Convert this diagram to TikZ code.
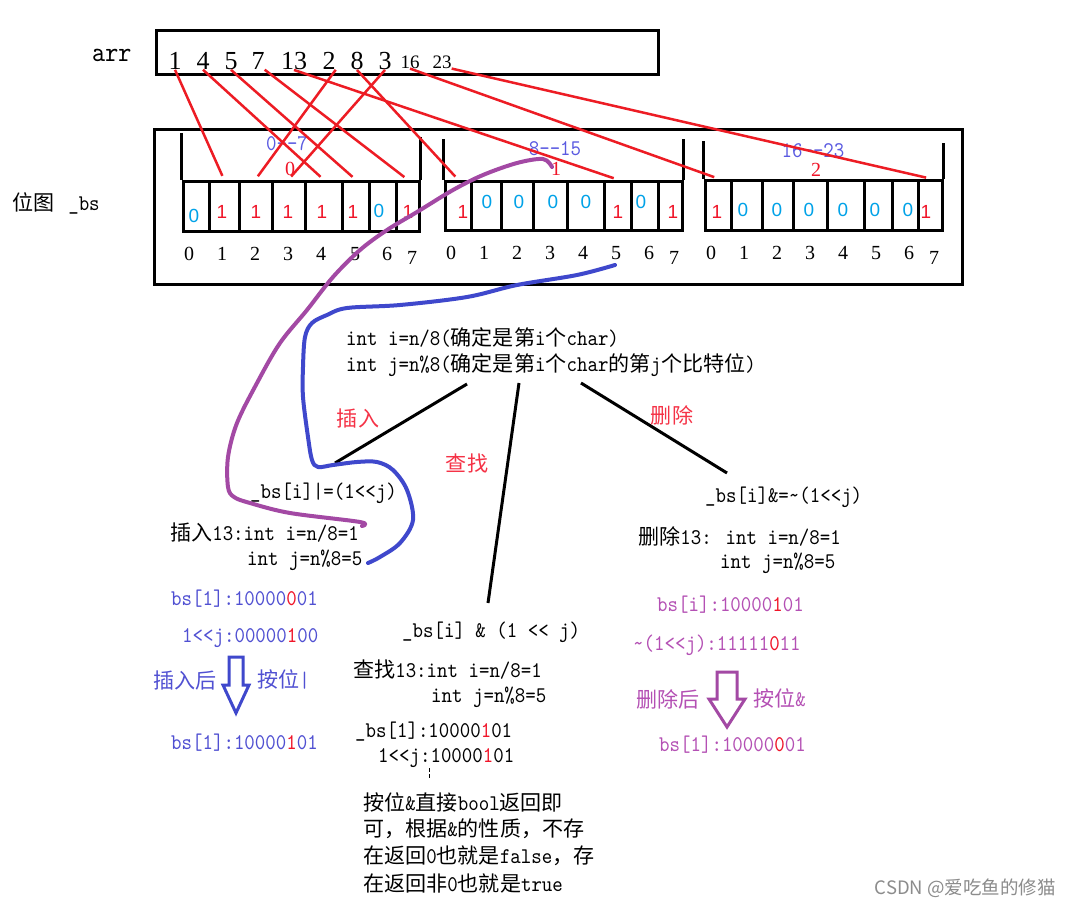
\documentclass[tikz,border=0pt]{standalone}
\usepackage{fontspec}
\setmainfont{Liberation Serif}
\newfontfamily\codefont{lmmono10-regular.otf}[FakeStretch=0.89]
\newfontfamily\cjkfont{Noto Sans CJK SC}[Scale=0.94]
\newfontfamily\wmfont{Noto Sans CJK SC}
\newfontfamily\sansf{Liberation Sans}
\newcommand\zh[1]{{\cjkfont #1}}
\definecolor{lred}{RGB}{237,28,36}
\definecolor{vred}{RGB}{240,20,40}
\definecolor{vblue}{RGB}{0,162,232}
\definecolor{lblue}{RGB}{90,90,225}
\definecolor{cblue}{RGB}{63,72,204}
\definecolor{cpurple}{RGB}{163,73,164}
\definecolor{btext}{RGB}{80,80,210}
\definecolor{ptext}{RGB}{180,80,180}
\definecolor{labred}{RGB}{245,50,70}
\newcommand\rd[1]{{\color{vred}#1}}
\begin{document}
\begin{tikzpicture}[x=1pt,y=-1pt,
  code/.style={font=\codefont\fontsize{22.4}{26}\selectfont, inner sep=0pt, anchor=west},
  cell/.style={draw, line width=3pt, minimum height=50pt, inner sep=0pt},
  idx/.style={font=\fontsize{20}{24}\selectfont, inner sep=0pt},
  val/.style={font=\sansf\fontsize{19}{22}\selectfont, inner sep=0pt},
  num/.style={font=\fontsize{26}{30}\selectfont, inner sep=0pt},
  smallnum/.style={font=\fontsize{19}{22}\selectfont, inner sep=0pt},
  rng/.style={font=\codefont\fontsize{22.4}{26}\selectfont, text=lblue, inner sep=0pt},
  grp/.style={font=\fontsize{20}{24}\selectfont, text=vred, inner sep=0pt},
  redline/.style={draw=lred, line width=2.5pt, shorten >=4pt},
  bline/.style={draw=black, line width=3pt},
  curve/.style={line width=4pt, line cap=round, line join=round},
  hollow/.style={line width=3pt, line join=miter}
]
\useasboundingbox (0,0) rectangle (1071,908);
\fill[white] (0,0) rectangle (1071,908);

% arr
\node[font=\codefont\fontsize{28}{32}\selectfont, inner sep=0pt, anchor=west] (arrlab) at (92,55) {arr};
\draw[line width=3pt] (156,30) rectangle (658,74);
\node[num] (n1) at (175,61) {1};
\node[num] (n4) at (203,61) {4};
\node[num] (n5) at (231,61) {5};
\node[num] (n7) at (258,61) {7};
\node[num] (n13) at (294,61) {13};
\node[num] (n2) at (329,61) {2};
\node[num] (n8) at (357,61) {8};
\node[num] (n3) at (385,61) {3};
\node[smallnum] (n16) at (410,62) {16};
\node[smallnum] (n23) at (442,62) {23};

% bitmap
\node[code] (bmlab) at (12,203) {\zh{位图}\hspace{14pt}\_bs};
\draw[line width=3pt] (154,129) rectangle (962,284);

\foreach \i/\c/\w in {0/196/26,1/224/30,2/255.5/33,3/288.5/33,4/323.5/37,5/355.5/27,6/382.5/27,7/407.5/23}
  \node[cell, minimum width=\w pt] (g1c\i) at (\c,206) {};
\foreach \i/\c/\w in {0/458/26,1/486/30,2/517/32,3/550/34,4/585.5/37,5/617.5/27,6/644.5/27,7/670/24}
  \node[cell, minimum width=\w pt, minimum height=49pt] (g2c\i) at (\c,205.5) {};
\foreach \i/\c/\w in {0/718/26,1/746.5/31,2/777.5/31,3/810/34,4/845.5/37,5/878/28,6/905/26,7/930/24}
  \node[cell, minimum width=\w pt] (g3c\i) at (\c,205) {};

\draw[line width=3pt] (g1c0.north west) -- ++(0,-47);
\draw[line width=3pt] (g1c7.north east) -- ++(0,-43);
\draw[line width=3pt] (g2c0.north west) -- ++(0,-41);
\draw[line width=3pt] (g2c7.north east) -- ++(0,-41);
\draw[line width=3pt] (g3c0.north west) -- ++(0,-38);
\draw[line width=3pt] (g3c7.north east) -- ++(0,-36);

% values
\foreach \i/\x/\y/\c/\v in {0/194/216/vblue/0,1/222/212/vred/1,2/256/212/vred/1,3/288/212/vred/1,4/322/212/vred/1,5/353/212/vred/1,6/379/211/vblue/0,7/408/212/vred/1}
  \node[val, text=\c] (g1v\i) at (\x,\y) {\v};
\foreach \i/\x/\y/\c/\v in {0/463/212/vred/1,1/487/202/vblue/0,2/519/202/vblue/0,3/553/202/vblue/0,4/586/202/vblue/0,5/618/212/vred/1,6/641/202/vblue/0,7/673/212/vred/1}
  \node[val, text=\c] (g2v\i) at (\x,\y) {\v};
\foreach \i/\x/\y/\c/\v in {0/717/212/vred/1,1/743/210/vblue/0,2/777/210/vblue/0,3/809/210/vblue/0,4/843/210/vblue/0,5/875/210/vblue/0,6/908/210/vblue/0,7/926/212/vred/1}
  \node[val, text=\c] (g3v\i) at (\x,\y) {\v};

% indices
\foreach \i/\x/\y in {0/189/254,1/222/254,2/255/254,3/288/254,4/321/254,5/355/254,6/387/254,7/412/258}
  \node[idx] (g1i\i) at (\x,\y) {\i};
\foreach \i/\x/\y in {0/451/253,1/484/253,2/517/253,3/550/253,4/583/253,5/616/253,6/649/253,7/674/258}
  \node[idx] (g2i\i) at (\x,\y) {\i};
\foreach \i/\x/\y in {0/711/253,1/744/253,2/777/253,3/810/253,4/843/253,5/876/253,6/909/253,7/934/258}
  \node[idx] (g3i\i) at (\x,\y) {\i};

% group labels
\node[rng] (r1) at (287,144) {0-\kern0pt-7};
\node[grp] (q1) at (290,169) {0};
\node[rng] (r2) at (555,149) {8-\kern0pt-15};
\node[grp] (q2) at (556,169) {1};
\node[rng] (r3) at (813,151) {16-\kern0pt-23};
\node[grp] (q3) at (816,170) {2};

% mapping lines
\draw[redline] (n1.south) -- (g1c1.north);
\draw[redline] (n4.south) -- (g1c4.north);
\draw[redline] (n5.south) -- (g1c5.north);
\draw[redline] (n7.south east) -- (g1c7.north);
\draw[redline] (n13.south) -- (g2c5.north);
\draw[redline] (n2.south east) -- (g1c2.north);
\draw[redline] (n8.south) -- (g2c0.north);
\draw[redline] (n3.south) -- (g1c3.north);
\draw[redline] (n16.south) -- (g3c0.north);
\draw[redline] (n23.south east) -- (g3c7.north);

% definitions
\node[code] (def1) at (346,338) {int i=n/8(\zh{确定是第}i\zh{个}char)};
\node[code] (def2) at (346,365) {int j=n\%8(\zh{确定是第}i\zh{个}char\zh{的第}j\zh{个比特位})};

\coordinate (ti) at (467,384);
\coordinate (te) at (335,463);
\coordinate (fi) at (519,383);
\coordinate (fe) at (488,603);
\coordinate (di) at (581,383);
\coordinate (de) at (727,473);
\draw[bline] (ti) -- (te);
\draw[bline] (fi) -- (fe);
\draw[bline] (di) -- (de);

\node[code, text=labred, anchor=center] (lins) at (358,419) {\zh{插入}};
\node[code, text=labred, anchor=center] (lfind) at (467,463) {\zh{查找}};
\node[code, text=labred, anchor=center] (ldel) at (672,415) {\zh{删除}};

% insert
\node[code] (insx) at (250,493) {\_bs[i]|=(1<<j)};
\node[code] (ins1) at (170,533) {\zh{插入}13:int i=n/8=1};
\node[code] (ins2) at (247,560) {int j=n\%8=5};
\node[code, text=btext] (ins3) at (171,599) {bs[1]:10000\rd{0}01};
\node[code, text=btext] (ins4) at (182,638) {1<<j:00000\rd{1}00};
\node[code, text=btext] (ins5) at (153,681) {\zh{插入后}};
\node[code, text=btext] (ins6) at (257,680) {\zh{按位}|};
\node[code, text=btext] (ins7) at (171,743) {bs[1]:10000\rd{1}01};
\draw[hollow, cblue] (229,657) -- (243,657) -- (243,685) -- (249,685) -- (236,713) -- (223,685) -- (229,685) -- cycle;

% find
\node[code] (fx) at (402,632) {\_bs[i] \& (1 << j)};
\node[code] (f1) at (353,670) {\zh{查找}13:int i=n/8=1};
\node[code] (f2) at (431,697) {int j=n\%8=5};
\node[code] (f3) at (355,732) {\_bs[1]:10000\rd{1}01};
\node[code] (f4) at (378,758) {1<<j:10000\rd{1}01};
\draw[line width=1pt, dash pattern=on 4pt off 2pt] (429,768) -- (429,779);
\node[code] (f5) at (363,802) {\zh{按位}\&\zh{直接}bool\zh{返回即}};
\node[code] (f6) at (363,829) {\zh{可，根据}\&\zh{的性质，不存}};
\node[code] (f7) at (363,856) {\zh{在返回}0\zh{也就是}false\zh{，存}};
\node[code] (f8) at (363,883) {\zh{在返回非}0\zh{也就是}true};

% delete
\node[code] (dx) at (705,497) {\_bs[i]\&=\textasciitilde(1<<j)};
\node[code] (d1) at (638,537) {\zh{删除}13: int i=n/8=1};
\node[code] (d2) at (720,563) {int j=n\%8=5};
\node[code, text=ptext] (d3) at (657,605) {bs[i]:10000\rd{1}01};
\node[code, text=ptext] (d4) at (633,645) {\textasciitilde(1<<j):11111\rd{0}11};
\node[code, text=ptext] (d5) at (636,699) {\zh{删除后}};
\node[code, text=ptext] (d6) at (753,698) {\zh{按位}\&};
\node[code, text=ptext] (d7) at (659,745) {bs[1]:10000\rd{0}01};
\draw[hollow, cpurple] (717,672) -- (737,672) -- (737,699) -- (745,699) -- (727,727) -- (709,699) -- (717,699) -- cycle;

% freehand curves
\draw[curve, cpurple] plot[smooth, tension=0.55] coordinates {(552,167) (543,159) (517,163) (483,175) (453,190) (417,212) (387,230) (360,250) (333,277) (307,310) (280,343) (257,383) (237,423) (228,457) (228,487) (234,497) (250,503) (290,513) (360,522) (362,526)};
\draw[curve, cblue] plot[smooth, tension=0.55] coordinates {(615,265) (577,275) (517,285) (467,297) (400,305) (347,308) (327,315) (312,323) (305,337) (303,367) (303,397) (308,437) (312,460) (318,467) (333,465) (357,462) (377,462) (393,470) (407,490) (413,520) (400,543) (380,557) (368,563)};

% watermark
\node[font=\wmfont\fontsize{18.5}{22}\selectfont, text=black!45, anchor=east, inner sep=0pt] (wm) at (1056,888) {CSDN @爱吃鱼的修猫};
\end{tikzpicture}
\end{document}
